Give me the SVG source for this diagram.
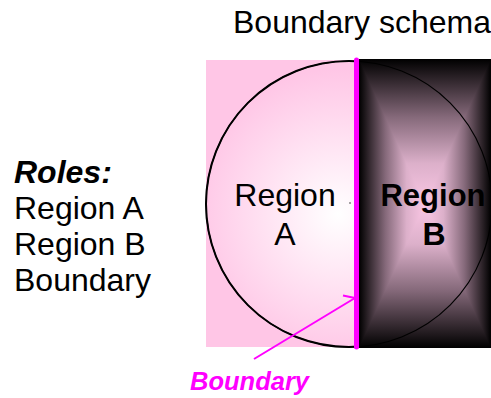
<svg xmlns="http://www.w3.org/2000/svg" width="491" height="398" viewBox="0 0 491 398">
  <style>
    .txt { font-family: "Liberation Sans", Arial, sans-serif; fill: #000; }
    .big { font-size: 32px; }
    .mag { fill: #ff00ff; }
    .outline { fill: none; stroke: #000; }
    .conn { fill: none; stroke: #ff00ff; stroke-width: 2; }
    .tri { shape-rendering: crispEdges; }
    .s0 { stop-color: #000; }
    .s1 { stop-color: #85697a; }
    .s2 { stop-color: #dcb0ca; }
    .s3 { stop-color: #fac6e4; }
  </style>
  <defs>
    <radialGradient id="gradA" gradientUnits="userSpaceOnUse" cx="338" cy="214" r="145">
      <stop offset="0" stop-color="#ffffff"/>
      <stop offset="1" stop-color="#ffc6e6"/>
    </radialGradient>
    <!-- box gradient for region B, built from four triangles -->
    <linearGradient id="gL" gradientUnits="userSpaceOnUse" x1="359" y1="0" x2="425" y2="0">
      <stop offset="0" class="s0"/><stop offset="0.4" class="s1"/><stop offset="0.72" class="s2"/><stop offset="1" class="s3"/>
    </linearGradient>
    <linearGradient id="gR" gradientUnits="userSpaceOnUse" x1="491" y1="0" x2="425" y2="0">
      <stop offset="0" class="s0"/><stop offset="0.4" class="s1"/><stop offset="0.72" class="s2"/><stop offset="1" class="s3"/>
    </linearGradient>
    <linearGradient id="gT" gradientUnits="userSpaceOnUse" x1="0" y1="59" x2="0" y2="204">
      <stop offset="0" class="s0"/><stop offset="0.4" class="s1"/><stop offset="0.72" class="s2"/><stop offset="1" class="s3"/>
    </linearGradient>
    <linearGradient id="gB" gradientUnits="userSpaceOnUse" x1="0" y1="348" x2="0" y2="204">
      <stop offset="0" class="s0"/><stop offset="0.4" class="s1"/><stop offset="0.72" class="s2"/><stop offset="1" class="s3"/>
    </linearGradient>
  </defs>

  <rect width="491" height="398" fill="#fff"/>

  <g id="title">
    <text class="txt big" x="233" y="33">Boundary schema</text>
  </g>

  <g id="legend">
    <text class="txt big" x="14" y="183" font-weight="bold" font-style="italic">Roles:</text>
    <text class="txt big" x="14" y="219">Region A</text>
    <text class="txt big" x="14" y="255">Region B</text>
    <text class="txt big" x="14" y="291">Boundary</text>
  </g>

  <g id="region-a">
    <rect x="206" y="60" width="151" height="287" fill="#ffc6e6"/>
    <circle cx="349" cy="204" r="143" fill="url(#gradA)" stroke="#000" stroke-width="2"/>
    <text class="txt big" x="285" y="206" text-anchor="middle">Region</text>
    <text class="txt big" x="285" y="245" text-anchor="middle">A</text>
    <circle cx="350" cy="203" r="0.8" fill="#333"/>
  </g>

  <g id="region-b">
    <rect x="359" y="59" width="132" height="289" fill="#5a4650"/>
    <polygon class="tri" points="359,59 359,348 425,204" fill="url(#gL)"/>
    <polygon class="tri" points="491,59 491,348 425,204" fill="url(#gR)"/>
    <polygon class="tri" points="359,59 491,59 425,204" fill="url(#gT)"/>
    <polygon class="tri" points="359,348 491,348 425,204" fill="url(#gB)"/>
    <circle class="outline" cx="349" cy="204" r="143" stroke-width="1.2"/>
    <text class="txt" x="433" y="206" font-size="31" text-anchor="middle" font-weight="bold">Region</text>
    <text class="txt big" x="434" y="245" text-anchor="middle" font-weight="bold">B</text>
  </g>

  <g id="boundary">
    <line x1="356.5" y1="60" x2="356.5" y2="347" stroke="#ff00ff" stroke-width="5" stroke-linecap="round"/>
  </g>

  <g id="connectors">
    <path class="conn" d="M254,359 L355,298 M343,295.5 L355,298"/>
  </g>

  <g id="boundary-label">
    <text class="txt mag" x="190" y="390" font-size="25.5" font-weight="bold" font-style="italic">Boundary</text>
  </g>
</svg>
